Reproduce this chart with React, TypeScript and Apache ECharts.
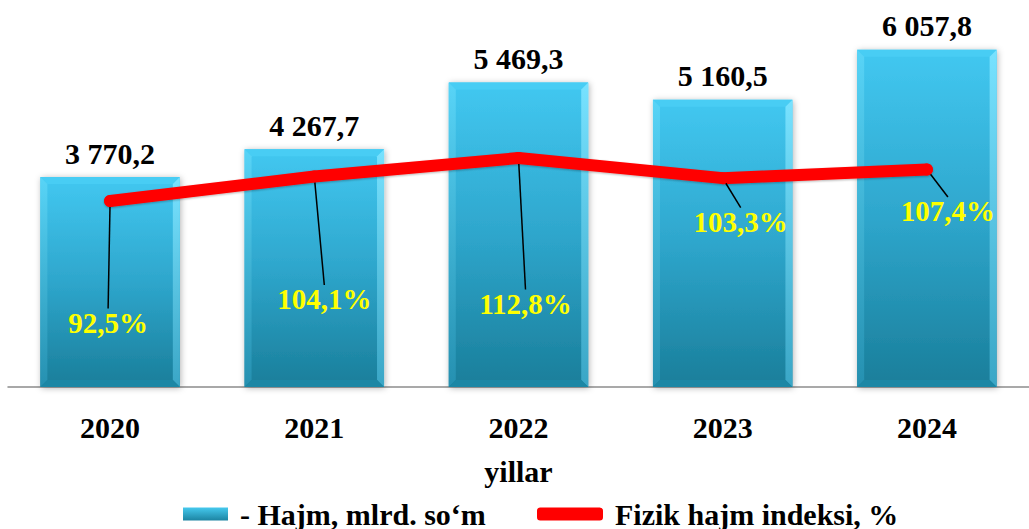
import React, { useEffect, useRef } from "react";
import * as echarts from "echarts";

const years = ["2020", "2021", "2022", "2023", "2024"];
const volume = [3770.2, 4267.7, 5469.3, 5160.5, 6057.8];
const index = [92.5, 104.1, 112.8, 103.3, 107.4];
const indexLabelOffsets = [
  [-2, 122],
  [10, 123],
  [7, 146],
  [18, 44],
  [21, 42],
];
const barName = "- Hajm, mlrd. so\u2018m";
const lineName = "Fizik hajm indeksi, %";

const FONT = "'Liberation Serif', 'Times New Roman', serif";

function fmtVolume(v: number): string {
  const [i, d] = v.toFixed(1).split(".");
  const withSpaces = i.replace(/\B(?=(\d{3})+(?!\d))/g, " ");
  return withSpaces + "," + d;
}
function fmtPct(v: number): string {
  return v.toFixed(1).replace(".", ",") + "%";
}

export default function App() {
  const ref = useRef<HTMLDivElement>(null);
  useEffect(() => {
    if (!ref.current) return;
    const chart = echarts.init(ref.current, null, { renderer: "svg" });
    const mainGrad = () =>
      new echarts.graphic.LinearGradient(0, 0, 0, 1, [
        { offset: 0, color: "#42C8F1" },
        { offset: 0.5, color: "#2EA6CC" },
        { offset: 1, color: "#1A7E9A" },
      ]);
    const sideGrad = (light: string, dark: string) =>
      new echarts.graphic.LinearGradient(0, 0, 0, 1, [
        { offset: 0, color: light },
        { offset: 1, color: dark },
      ]);
    const legendText = {
      color: "#000",
      fontFamily: FONT,
      fontWeight: "bold",
      fontSize: 30,
      padding: [0, 0, 0, 7],
    };
    chart.setOption({
      animation: false,
      grid: { left: 8, top: 0, height: 387, width: 1025 },
      xAxis: {
        type: "category",
        data: years,
        axisLine: { lineStyle: { color: "#8C8C8C", width: 1.5 } },
        axisTick: { show: false },
        axisLabel: {
          color: "#000",
          fontFamily: FONT,
          fontWeight: "bold",
          fontSize: 30,
          margin: 25,
        },
        name: "yillar",
        nameLocation: "middle",
        nameGap: 69,
        nameTextStyle: {
          color: "#000",
          fontFamily: FONT,
          fontWeight: "bold",
          fontSize: 30,
        },
      },
      yAxis: [
        { type: "value", min: 0, max: 6950, show: false, splitLine: { show: false } },
        { type: "value", min: 4.7, max: 187.4, show: false, splitLine: { show: false } },
      ],
      legend: [
        {
          left: 183,
          top: 499,
          padding: 0,
          itemWidth: 45,
          itemHeight: 13,
          itemGap: 10,
          textStyle: legendText,
          data: [
            {
              name: barName,
              icon: "rect",
              itemStyle: { color: sideGrad("#45C9EE", "#1C84A2") },
            },
          ],
        },
        {
          left: 537,
          top: 499,
          padding: 0,
          itemWidth: 66,
          itemHeight: 13,
          textStyle: legendText,
          data: [{ name: lineName, icon: "roundRect", itemStyle: { color: "#FF0000" } }],
        },
      ],
      series: [
        {
          name: barName,
          type: "custom",
          itemStyle: { color: "#2EA6CC" },
          encode: { x: 0, y: 1 },
          data: volume.map((v, i) => [i, v]),
          renderItem: (params: any, api: any) => {
            const i = api.value(0);
            const v = api.value(1);
            const top = api.coord([i, v]);
            const base = api.coord([i, 0]);
            const bw = api.size([1, 0])[0] * 0.683;
            const x0 = top[0] - bw / 2;
            const x1 = top[0] + bw / 2;
            const y0 = top[1];
            const y1 = base[1];
            const b = 7;
            return {
              type: "group",
              children: [
                {
                  type: "rect",
                  shape: { x: x0, y: y0, width: bw, height: y1 - y0 },
                  style: {
                    fill: mainGrad(),
                    shadowBlur: 6,
                    shadowColor: "rgba(0,0,0,0.3)",
                    shadowOffsetX: 1,
                    shadowOffsetY: 1,
                  },
                },
                {
                  type: "polygon",
                  shape: { points: [[x0, y0], [x1, y0], [x1 - b, y0 + b], [x0 + b, y0 + b]] },
                  style: { fill: "#48CDF4" },
                },
                {
                  type: "polygon",
                  shape: { points: [[x0, y0], [x0 + b, y0 + b], [x0 + b, y1 - b], [x0, y1]] },
                  style: { fill: sideGrad("#58D4F7", "#2590B0") },
                },
                {
                  type: "polygon",
                  shape: { points: [[x1, y0], [x1, y1], [x1 - b, y1 - b], [x1 - b, y0 + b]] },
                  style: { fill: sideGrad("#78E2FF", "#3AA6C6") },
                },
                {
                  type: "polygon",
                  shape: { points: [[x0, y1], [x0 + b, y1 - b], [x1 - b, y1 - b], [x1, y1]] },
                  style: { fill: "#1C87A5" },
                },
                {
                  type: "text",
                  style: {
                    text: fmtVolume(v),
                    x: top[0],
                    y: y0 - 9,
                    align: "center",
                    verticalAlign: "bottom",
                    fill: "#000",
                    font: "bold 30px " + FONT,
                  },
                },
              ],
            };
          },
        },
        {
          name: lineName,
          type: "line",
          yAxisIndex: 1,
          data: index,
          symbol: "circle",
          symbolSize: 12,
          itemStyle: { color: "#FF0000" },
          lineStyle: {
            color: "#FF0000",
            width: 12,
            cap: "round",
            join: "round",
            shadowBlur: 2,
            shadowColor: "rgba(0,0,0,0.3)",
            shadowOffsetY: 1,
          },
          z: 5,
          label: {
            show: true,
            position: "inside",
            formatter: (p: any) => fmtPct(p.value),
            color: "#FFFF00",
            fontFamily: FONT,
            fontWeight: "bold",
            fontSize: 29,
          },
          labelLine: {
            show: true,
            lineStyle: { color: "#000", width: 1.5 },
          },
          labelLayout: (p: any) => ({
            dx: indexLabelOffsets[p.dataIndex][0],
            dy: indexLabelOffsets[p.dataIndex][1],
          }),
        },
      ],
    });
    return () => chart.dispose();
  }, []);
  return (
    <div
      ref={ref}
      style={{ position: "fixed", left: 0, top: 0, width: 1029, height: 529, background: "#fff" }}
    />
  );
}
